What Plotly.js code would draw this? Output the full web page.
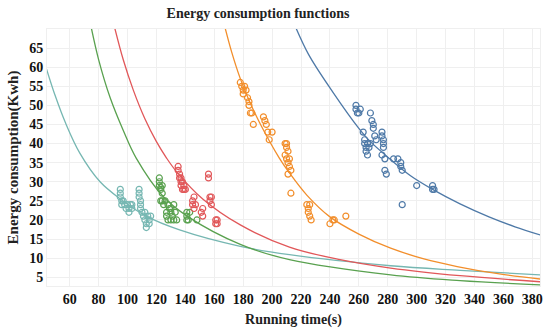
<!DOCTYPE html>
<html>
<head>
<meta charset="utf-8">
<script src="https://cdn.plot.ly/plotly-3.0.1.min.js"></script>
<style>html,body{margin:0;padding:0;background:#fff;}#chart{width:550px;height:330px;}</style>
</head>
<body>
<div id="chart"></div>
<script>
// ---- Measured points (running time s, energy kWh) ----
const tealPtsT = [95,95,95,96,96,97,98,99,100,101,101,102,103,103,108,108,108,109,109,109,110,111,112,112,113,113,114,115,116,115];
const tealPtsE = [28,27,26,25,24,25,24,23,24,23,22,24,23,24,28,27,26,25,24,23,22,21,22,20,19,18,21,20,21,19];

const greenPtsT = [122,122,122,123,123,124,124,123,124,125,126,127,127,128,128,129,130,130,130,131,132,132,133,134,141,141,141,142,143,148];
const greenPtsE = [31,30,29,28.5,28,29,27,25,25,24,25,22,21,20,24,23,23,22,20,21,24,20,22,20,22,21,20,20,22,20];

const redPtsT = [135,135,136,136,137,137,137,138,138,139,139,140,145,145,146,146,147,151,152,152,156,156,157,157,158,158,161,161,162,162];
const redPtsE = [34,33,32,31,30,29,31,30,28,29,28,28,25,24,26,23,24,22,23,21,32,31,26,25,24,26,20,19,20,19];

const orangePtsT = [178,179,180,181,182,180,183,184,184,185,186,187,194,195,196,197,200,198,209,210,210,211,209,210,211,212,212,213,211,213,224,225,226,225,226,227,240,242,243,251];
const orangePtsE = [56,55,54,55,54,53,52,51,50,48,48,45,47,46,45,43,43,41,40,40,39,38,37,36,35,36,34,33,32,27,24,23,24,22,21,20,19,20,20,21];

const bluePtsT = [258,258,259,260,261,263,264,264,265,265,266,266,267,268,268,269,270,270,271,272,276,276,277,277,277,276,278,278,279,284,287,289,289,290,290,300,311,311,312];
const bluePtsE = [50,49,48,48,49,43,41,40,39,38,40,37,39,40,48,46,45,44,42,41,43,42,41,40,39,37,36,33,32,36,36,35,34,33,24,29,29,28,28];

// ---- Fitted curves ----
const tealCurveT = [44,50,57,67,81,95,113,136,178,212,282,330,386];
const tealCurveE = [59.5,52.5,45.5,37.5,30,25.5,21,17.4,13.1,10.9,8.0,6.8,5.6];

const greenCurveT = [74,80,88,97,106,125,142,178,212,282,330,386];
const greenCurveE = [72,62,52,43.5,36.2,26,20.8,13.6,9.6,5.6,4.1,3.0];

const redCurveT = [90,97,104,112,120,127,134,152,178,212,247,282,330,386];
const redCurveE = [72,62,54,46.5,40.5,36.2,32.6,25.5,18.7,12.9,9.6,7.4,5.4,3.8];

const orangeCurveT = [166,172,178,185,192,205,212,224,240,260,282,305,328,355,386];
const orangeCurveE = [72.5,64,57,50.5,45,36.2,32.3,26.5,20.8,16.3,12.6,9.8,7.8,6.0,4.5];

const blueCurveT = [214,225,242,260,268,282,296,311,330,350,368,386];
const blueCurveE = [72.5,63.5,53.5,44,40.5,35.8,31.5,28,24.2,20.8,18.2,16];

const xTicks = [60,80,100,120,140,160,180,200,220,240,260,280,300,320,340,360,380];
const yTicks = [5,10,15,20,25,30,35,40,45,50,55,60,65];

const colors = {teal:'#76b7b2', green:'#59a14f', red:'#e15759', orange:'#f28e2b', blue:'#4e79a7'};
const FONT = 'Liberation Serif, Times New Roman, serif';

function pts(x, y, c, name){
  return {x:x, y:y, type:'scatter', mode:'markers', name:name, showlegend:false,
    marker:{symbol:'circle-open', size:6, color:c, line:{width:1.2, color:c}}};
}
function curve(x, y, c, name){
  return {x:x, y:y, type:'scatter', mode:'lines', name:name, showlegend:false,
    line:{color:c, width:1.3, shape:'spline', smoothing:1}};
}

const data = [
  curve(tealCurveT, tealCurveE, colors.teal, 'teal fit'),
  curve(greenCurveT, greenCurveE, colors.green, 'green fit'),
  curve(redCurveT, redCurveE, colors.red, 'red fit'),
  curve(orangeCurveT, orangeCurveE, colors.orange, 'orange fit'),
  curve(blueCurveT, blueCurveE, colors.blue, 'blue fit'),
  pts(tealPtsT, tealPtsE, colors.teal, 'teal'),
  pts(greenPtsT, greenPtsE, colors.green, 'green'),
  pts(redPtsT, redPtsE, colors.red, 'red'),
  pts(orangePtsT, orangePtsE, colors.orange, 'orange'),
  pts(bluePtsT, bluePtsE, colors.blue, 'blue')
];

const layout = {
  width:550, height:330,
  margin:{l:47, r:10, t:29, b:44, pad:0},
  paper_bgcolor:'#ffffff', plot_bgcolor:'#ffffff',
  font:{family:FONT, color:'#1a1a1a', size:14, weight:'bold'},
  title:{text:'Energy consumption functions', x:0.428, xanchor:'center', xref:'paper',
    y:0.96, yref:'container', yanchor:'middle',
    font:{family:FONT, size:14, weight:'bold', color:'#222'}},
  xaxis:{range:[44.3,385.3], tickvals:xTicks, ticktext:xTicks.map(String), ticks:'',
    showgrid:true, gridcolor:'#efefef', gridwidth:1, zeroline:false,
    showline:true, linecolor:'#efefef', mirror:true,
    tickfont:{family:FONT, size:14, weight:'bold', color:'#111'},
    title:{text:'Running time(s)', standoff:8, font:{family:FONT, size:14, weight:'bold', color:'#222'}}},
  yaxis:{range:[2.7,70], tickvals:yTicks, ticktext:yTicks.map(String), ticks:'',
    showgrid:true, gridcolor:'#efefef', gridwidth:1, zeroline:false,
    showline:true, linecolor:'#efefef', mirror:true,
    tickfont:{family:FONT, size:14, weight:'bold', color:'#111'},
    title:{text:'\u00A0\u00A0\u00A0\u00A0\u00A0Energy consumption(Kwh)', standoff:6, font:{family:FONT, size:15, weight:'bold', color:'#222'}}}
};

Plotly.newPlot('chart', data, layout, {displayModeBar:false, staticPlot:true});
</script>
</body>
</html>
